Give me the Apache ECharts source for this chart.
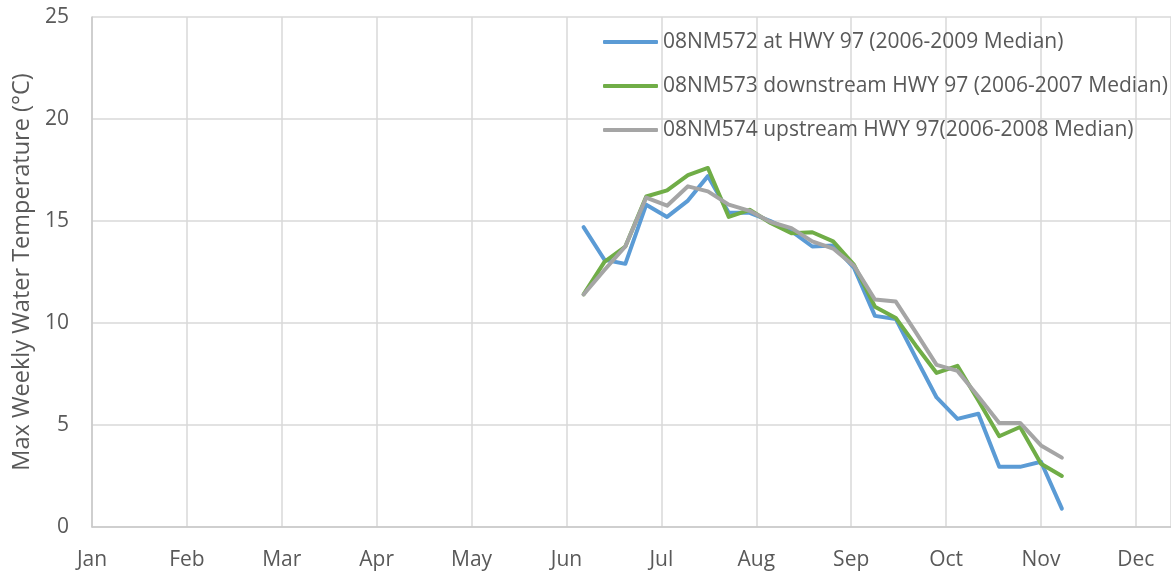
<!DOCTYPE html>
<html>
<head>
<meta charset="utf-8">
<script src="https://cdn.jsdelivr.net/npm/echarts@6/dist/echarts.min.js"></script>
<style>
  html, body { margin: 0; padding: 0; background: #fff; }
  #chart { width: 1171px; height: 573px; }
</style>
</head>
<body>
<div id="chart"></div>
<script>
// month tick labels (one per gridline)
const monthLabels = ["Jan", "Feb", "Mar", "Apr", "May", "Jun", "Jul", "Aug", "Sep", "Oct", "Nov", "Dec"];

// week positions, in months from Jan 1
const weekPositions = [5.18, 5.40, 5.62, 5.84, 6.06, 6.28, 6.49, 6.71, 6.93, 7.15, 7.37, 7.59,
  7.81, 8.03, 8.25, 8.47, 8.68, 8.90, 9.12, 9.34, 9.56, 9.78, 10.00, 10.22];

// max weekly water temperature (°C)
const station572 = [14.7, 13.1, 12.9, 15.8, 15.2, 16.0, 17.2, 15.4, 15.4, 15.0, 14.5, 13.75,
  13.8, 12.7, 10.35, 10.2, 8.3, 6.35, 5.3, 5.55, 2.95, 2.95, 3.2, 0.9];
const station573 = [11.4, 13.0, 13.75, 16.2, 16.5, 17.25, 17.6, 15.2, 15.55, 14.9, 14.4, 14.45,
  14.0, 12.85, 10.8, 10.25, 8.9, 7.55, 7.9, 6.2, 4.45, 4.9, 3.1, 2.5];
const station574 = [11.4, 12.6, 13.75, 16.15, 15.75, 16.7, 16.45, 15.8, 15.5, 14.95, 14.65, 14.0,
  13.65, 12.8, 11.15, 11.05, 9.55, 7.95, 7.65, 6.4, 5.1, 5.1, 4.0, 3.4];

const seriesNames = [
  "08NM572 at HWY 97 (2006-2009 Median)",
  "08NM573 downstream HWY 97 (2006-2007 Median)",
  "08NM574 upstream HWY 97(2006-2008 Median)"
];
const seriesColors = ["#5B9BD5", "#70AD47", "#A5A5A5"];

const textColor = "#595959";
const fontFamily = "'Open Sans', sans-serif";

const chart = echarts.init(document.getElementById("chart"));

const pairs = (values) => values.map((v, i) => [weekPositions[i], v]);

const option = {
  animation: false,
  textStyle: { fontFamily: fontFamily, color: textColor },
  grid: {
    left: 92,
    right: 0,
    top: 17,
    bottom: 46,
    containLabel: false,
    outerBoundsMode: "none"
  },
  legend: {
    orient: "vertical",
    left: 598,
    top: 26,
    itemWidth: 55,
    itemHeight: 4,
    itemGap: 22,
    icon: "roundRect",
    textStyle: { fontFamily: fontFamily, fontSize: 21, color: textColor, lineHeight: 22 },
    data: seriesNames
  },
  xAxis: {
    type: "value",
    min: 0,
    max: 11.37,
    interval: 1,
    axisLine: { show: true, lineStyle: { color: "#C9C9C9", width: 1.5 } },
    axisTick: { show: false },
    splitLine: { show: true, lineStyle: { color: "#D9D9D9", width: 1.5 } },
    axisLabel: {
      margin: 23,
      fontSize: 21,
      color: textColor,
      fontFamily: fontFamily,
      formatter: (v) => (Number.isInteger(v) && monthLabels[v] ? monthLabels[v] : "")
    }
  },
  yAxis: {
    type: "value",
    min: 0,
    max: 25,
    interval: 5,
    name: "Max Weekly Water Temperature (°C)",
    nameLocation: "middle",
    nameGap: 57,
    nameTextStyle: { fontSize: 23.5, color: textColor, fontFamily: fontFamily },
    axisLine: { show: true, lineStyle: { color: "#C9C9C9", width: 1.5 } },
    axisTick: { show: false },
    splitLine: { show: true, lineStyle: { color: "#D9D9D9", width: 1.5 } },
    axisLabel: { margin: 23, fontSize: 21, color: textColor, fontFamily: fontFamily }
  },
  series: [station572, station573, station574].map((vals, i) => ({
    name: seriesNames[i],
    type: "line",
    data: pairs(vals),
    showSymbol: false,
    symbol: "none",
    itemStyle: { color: seriesColors[i] },
    lineStyle: { color: seriesColors[i], width: 4, join: "round", cap: "round" }
  }))
};

chart.setOption(option);
</script>
</body>
</html>
